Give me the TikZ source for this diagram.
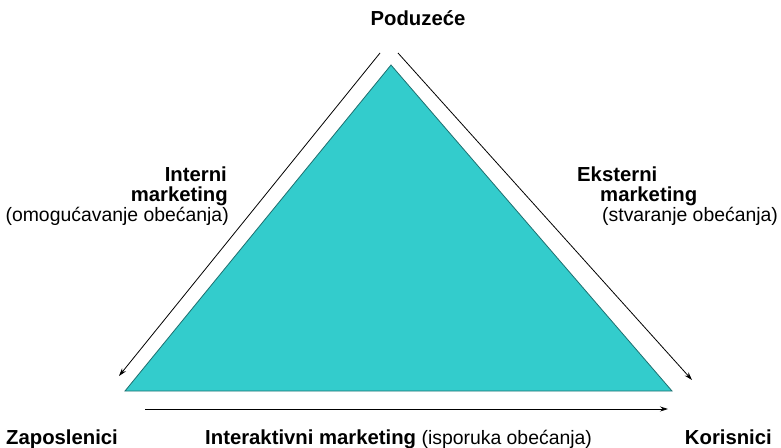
\documentclass[tikz,border=0pt]{standalone}
\usepackage{fontspec}
\setmainfont{Liberation Sans}
\usetikzlibrary{arrows.meta}
\definecolor{tealfill}{HTML}{33CCCC}
\definecolor{tealedge}{HTML}{1F6F6F}

\begin{document}
\begin{tikzpicture}[x=1pt,y=-1pt,
    lbl/.style={inner sep=0pt,font=\fontsize{19.4}{21}\selectfont},
    blbl/.style={lbl,font=\fontsize{20.3}{21}\selectfont\bfseries},
    flow/.style={-{Stealth[length=8pt,width=5pt]},line width=0.8pt}]
    \useasboundingbox (0,0) rectangle (781,447);

    % Triangle
    \coordinate (top) at (391,65);
    \coordinate (left) at (125,391);
    \coordinate (right) at (672,391);
    \filldraw[fill=tealfill,draw=tealedge,line width=0.8pt] (top) -- (left) -- (right) -- cycle;

    % Arrows along the sides
    \coordinate (la) at (380,53);
    \coordinate (lb) at (119,376);
    \coordinate (ra) at (398,53);
    \coordinate (rb) at (692,380);
    \coordinate (ba) at (145,409);
    \coordinate (bb) at (668,409);
    \draw[flow] (la) -- (lb);
    \draw[flow] (ra) -- (rb);
    \draw[flow] (ba) -- (bb);

    % Corner labels
    \node[blbl,anchor=base] (pod) at (418,25) {Poduzeće};
    \node[blbl,anchor=base west] (zap) at (6,444) {Zaposlenici};
    \node[blbl,anchor=base east] (kor) at (772,444) {Korisnici};

    % Side labels
    \node[blbl,anchor=base east] (int1) at (227,181) {Interni};
    \node[blbl,anchor=base east] (int2) at (228,201) {marketing};
    \node[lbl,anchor=base east] (int3) at (229,221) {(omogućavanje obećanja)};
    \node[blbl,anchor=base west] (eks1) at (577,181) {Eksterni};
    \node[blbl,anchor=base west] (eks2) at (600,201) {marketing};
    \node[lbl,anchor=base west] (eks3) at (602,221) {(stvaranje obećanja)};
    \node[lbl,anchor=base west] (iak) at (205,444) {\textbf{\fontsize{20.3}{21}\selectfont Interaktivni marketing} (isporuka obećanja)};
\end{tikzpicture}
\end{document}
